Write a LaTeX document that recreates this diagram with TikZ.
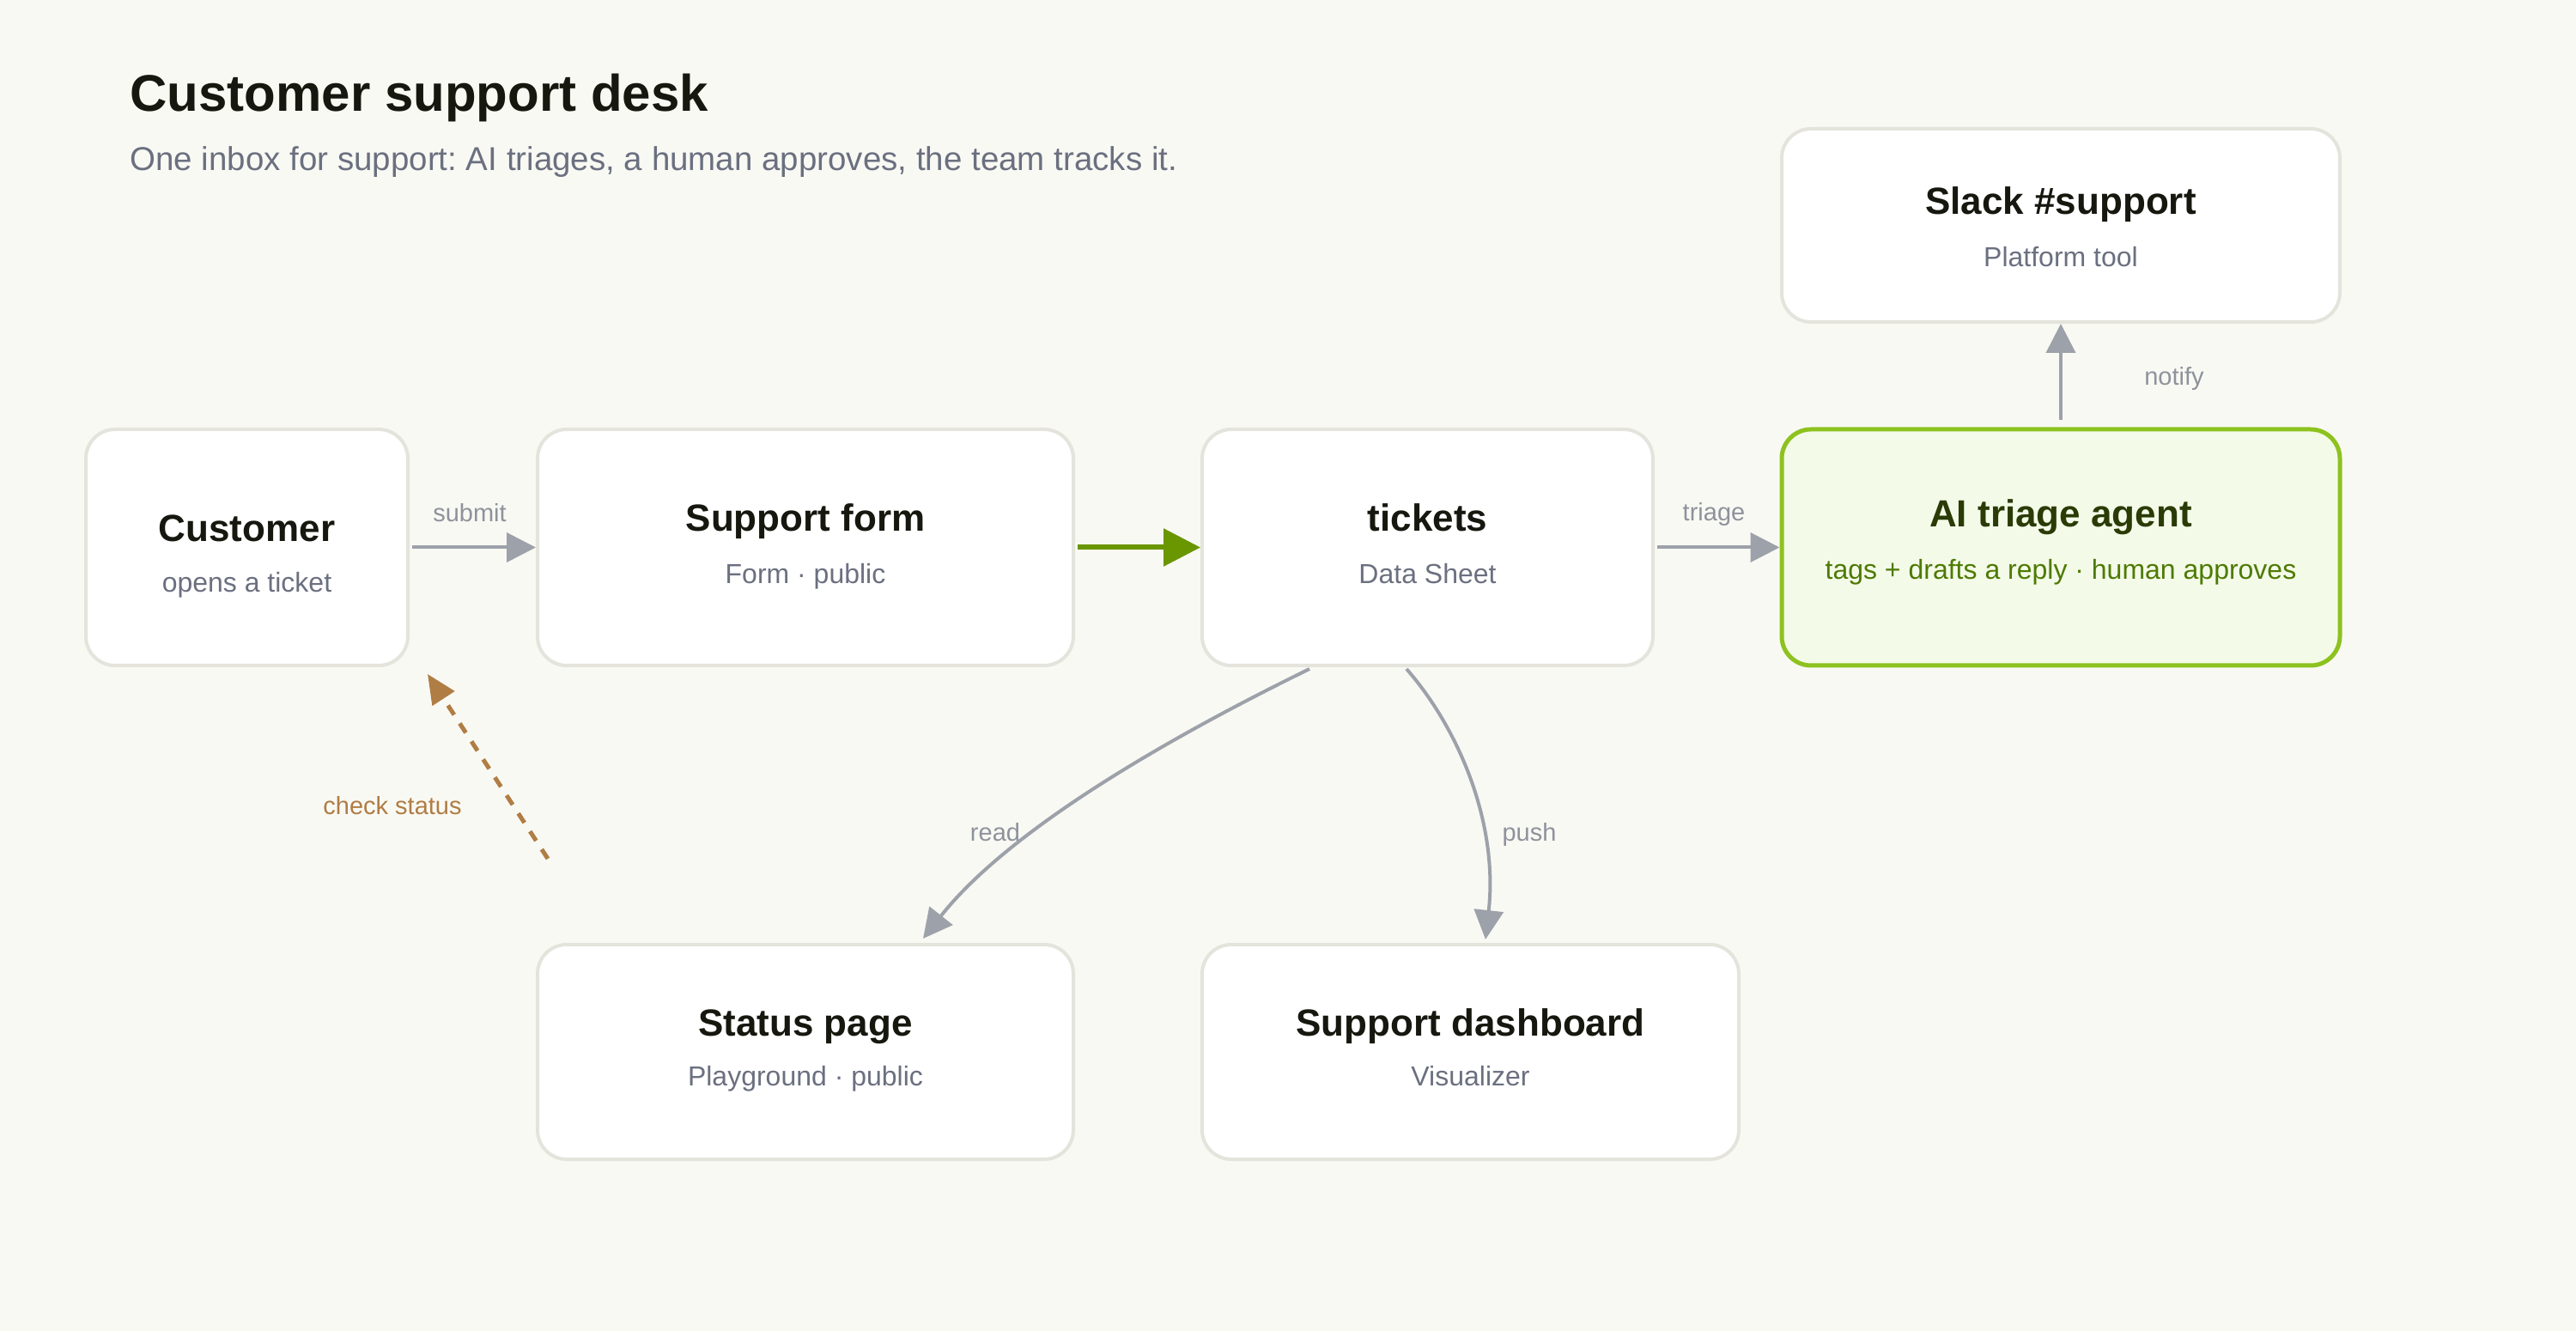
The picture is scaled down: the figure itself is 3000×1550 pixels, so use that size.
\documentclass[tikz,border=0pt]{standalone}
\usepackage{fontspec}
\setmainfont{Liberation Sans}
\usetikzlibrary{arrows.meta,calc}
\frenchspacing
\definecolor{bg}{HTML}{F9F9F4}
\definecolor{boxline}{HTML}{E4E4DC}
\definecolor{ink}{HTML}{16180F}
\definecolor{slate}{HTML}{6B7080}
\definecolor{lbl}{HTML}{8E929B}
\definecolor{arrowgray}{HTML}{9DA1A9}
\definecolor{flowgreen}{HTML}{6A9600}
\definecolor{aigreen}{HTML}{8DC21F}
\definecolor{aifill}{HTML}{F4FAE8}
\definecolor{aiink}{HTML}{2A3B06}
\definecolor{aisub}{HTML}{4E7A04}
\definecolor{brown}{HTML}{B07D44}
\tikzset{
  cardbox/.style={draw=boxline, line width=2pt, fill=white, rounded corners=17pt, inner sep=0pt},
  aibox/.style={cardbox, draw=aigreen, fill=aifill, line width=2.5pt},
  ttl/.style={font=\bfseries\fontsize{22pt}{26pt}\selectfont, text=ink, anchor=base, inner sep=0pt},
  subtxt/.style={font=\fontsize{16pt}{20pt}\selectfont, text=slate, anchor=base, inner sep=0pt},
  elabel/.style={font=\fontsize{14.5pt}{18pt}\selectfont, text=lbl, anchor=base, inner sep=0pt},
  garrow/.style={draw=arrowgray, line width=2pt, -{Triangle[length=17pt,width=17pt]}},
  greenarrow/.style={draw=flowgreen, line width=3pt, -{Triangle[length=21.5pt,width=21.5pt]}},
  brownarrow/.style={draw=brown, line width=2.5pt, dash pattern=on 6.5pt off 6pt, -{Triangle[length=17pt,width=15pt]}}
}
\begin{document}
\begin{tikzpicture}[x=0.5pt,y=-0.5pt]
\fill[bg] (0,0) rectangle (3000,1550);
\useasboundingbox (0,0) rectangle (3000,1550);

% heading
\node[anchor=base west, inner sep=0pt, text=ink, font=\bfseries\fontsize{30pt}{36pt}\selectfont] (title) at (151,130) {Customer support desk};
\node[anchor=base west, inner sep=0pt, text=slate, font=\fontsize{19.25pt}{24pt}\selectfont] (subtitle) at (151,199) {One inbox for support: AI triages, a human approves, the team tracks it.};

% boxes
\node[cardbox, minimum width=187.5pt, minimum height=137.5pt] (cust) at (287.5,637.5) {};
\node[cardbox, minimum width=312pt, minimum height=137.5pt] (form) at (938,637.5) {};
\node[cardbox, minimum width=262.5pt, minimum height=137.5pt] (tick) at (1662.5,637.5) {};
\node[aibox, minimum width=325pt, minimum height=137.5pt] (ai) at (2400,637.5) {};
\node[cardbox, minimum width=325pt, minimum height=112.5pt] (slack) at (2400,262.5) {};
\node[cardbox, minimum width=312pt, minimum height=125pt] (status) at (938,1225) {};
\node[cardbox, minimum width=312.5pt, minimum height=125pt] (dash) at (1712.5,1225) {};

% box texts
\node[ttl] (cust-t) at (287.5,631) {Customer};
\node[subtxt] (cust-s) at (287.5,690) {opens a ticket};
\node[ttl] (form-t) at (938,619) {Support form};
\node[subtxt] (form-s) at (938,680) {Form · public};
\node[ttl] (tick-t) at (1662.5,619) {tickets};
\node[subtxt] (tick-s) at (1662.5,680) {Data Sheet};
\node[ttl, text=aiink] (ai-t) at (2400,614) {AI triage agent};
\node[subtxt, text=aisub] (ai-s) at (2400,675) {tags + drafts a reply · human approves};
\node[ttl] (slack-t) at (2400,250) {Slack \#support};
\node[subtxt] (slack-s) at (2400,311) {Platform tool};
\node[ttl] (status-t) at (938,1206) {Status page};
\node[subtxt] (status-s) at (938,1264) {Playground · public};
\node[ttl] (dash-t) at (1712.5,1206) {Support dashboard};
\node[subtxt] (dash-s) at (1712.5,1264) {Visualizer};

% connectors
\draw[garrow] ($(cust.east)+(3,0)$) -- (form.west);
\draw[greenarrow] ($(form.east)+(3,0)$) -- (tick.west);
\draw[garrow] ($(tick.east)+(3,0)$) -- (ai.west);
\draw[garrow] ($(ai.north)+(0,-8.5)$) -- (slack.south);
\draw[garrow] ($(tick.south)+(-137.5,2)$) .. controls (1380,850) and (1180,960) .. ($(status.north)+(137,-5)$);
\draw[garrow] ($(tick.south)+(-24.5,2)$) .. controls (1700,850) and (1745,960) .. ($(dash.north)+(17.5,-4)$);
\coordinate (cs-from) at (638,1000);
\coordinate (cs-to) at (498,785);
\draw[brownarrow] (cs-from) -- (cs-to);

% connector labels
\node[elabel] (l-submit) at (547,608) {submit};
\node[elabel] (l-triage) at (1996,607) {triage};
\node[elabel] (l-notify) at (2532,449) {notify};
\node[elabel] (l-read) at (1159,979) {read};
\node[elabel] (l-push) at (1781,979) {push};
\node[elabel, text=brown] (l-check) at (457,949) {check status};
\end{tikzpicture}
\end{document}
